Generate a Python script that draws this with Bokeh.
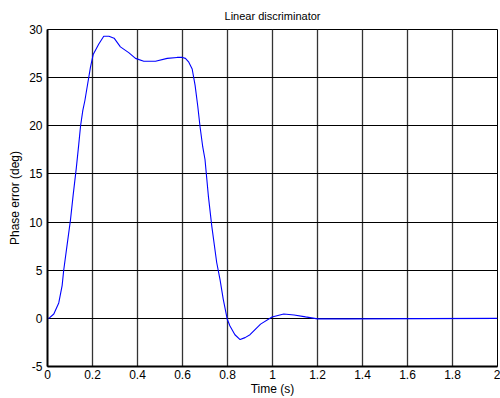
from bokeh.plotting import figure
from bokeh.models import Range1d, FixedTicker
from bokeh.embed import file_html
from bokeh.resources import INLINE

# Data
time_s = [0, 0.006, 0.028, 0.05, 0.065, 0.072, 0.087, 0.102, 0.114, 0.128, 0.139,
          0.147, 0.157, 0.166, 0.176, 0.191, 0.203, 0.228, 0.25, 0.273, 0.296,
          0.324, 0.361, 0.391, 0.428, 0.48, 0.532, 0.576, 0.6, 0.613, 0.628,
          0.643, 0.656, 0.668, 0.678, 0.69, 0.7, 0.715, 0.73, 0.752, 0.767,
          0.781, 0.799, 0.811, 0.833, 0.856, 0.878, 0.9, 0.947, 0.998, 1.05,
          1.096, 1.147, 1.2, 1.33, 2.0]
phase_err = [0, 0, 0.45, 1.6, 3.4, 5.0, 7.6, 10.2, 12.8, 15.6, 18.1,
             20.0, 21.6, 22.6, 24.0, 26.1, 27.4, 28.5, 29.3, 29.3, 29.1,
             28.2, 27.6, 27.0, 26.7, 26.7, 27.0, 27.1, 27.1, 27.0, 26.6,
             25.9, 24.2, 22.0, 19.9, 17.8, 16.5, 12.7, 9.6, 5.8, 4.0,
             2.0, -0.1, -0.8, -1.7, -2.2, -2.0, -1.7, -0.6, 0.15, 0.45,
             0.35, 0.15, -0.05, -0.05, 0]

x_ticks = [0, 0.2, 0.4, 0.6, 0.8, 1.0, 1.2, 1.4, 1.6, 1.8, 2.0]
x_tick_labels = ["0", "0.2", "0.4", "0.6", "0.8", "1", "1.2", "1.4", "1.6", "1.8", "2"]
y_ticks = [-5, 0, 5, 10, 15, 20, 25, 30]
y_tick_labels = ["-5", "0", "5", "10", "15", "20", "25", "30"]

FONT = "Liberation Sans"

p = figure(width=500, height=398, output_backend="svg", toolbar_location=None,
           x_range=Range1d(0, 2), y_range=Range1d(-5, 30),
           min_border_left=47, min_border_right=3, min_border_top=29, min_border_bottom=31)

p.title.text = "Linear discriminator"
p.title.align = "center"
p.title.text_font = FONT
p.title.text_font_size = "11px"
p.title.text_font_style = "normal"
p.title.text_color = "black"
p.title.standoff = 15

p.line(time_s, phase_err, line_color="#0000ff", line_width=1.1)

p.xaxis.ticker = FixedTicker(ticks=x_ticks)
p.xaxis.major_label_overrides = {t: l for t, l in zip(x_ticks, x_tick_labels)}
p.yaxis.ticker = FixedTicker(ticks=y_ticks)
p.yaxis.major_label_overrides = {t: l for t, l in zip(y_ticks, y_tick_labels)}

for ax in (p.xaxis[0], p.yaxis[0]):
    ax.axis_line_color = "black"
    ax.axis_line_width = 2
    ax.major_tick_in = 0
    ax.major_tick_out = 0
    ax.minor_tick_line_color = None
    ax.major_label_text_font = FONT
    ax.major_label_text_font_size = "12px"
    ax.major_label_text_color = "black"
    ax.axis_label_text_font = FONT
    ax.axis_label_text_font_size = "12px"
    ax.axis_label_text_font_style = "normal"
    ax.axis_label_text_color = "black"

p.xaxis.axis_label = "Time (s)"
p.yaxis.axis_label = "Phase error (deg)"
p.xaxis.major_label_standoff = 3
p.xaxis.axis_label_standoff = 0
p.yaxis.major_label_standoff = 5
p.yaxis.axis_label_standoff = 4

p.xgrid.grid_line_color = "#333333"
p.xgrid.grid_line_width = 1.3
p.ygrid.grid_line_color = "black"
p.ygrid.grid_line_width = 1
p.grid.grid_line_alpha = 1

p.outline_line_color = "black"
p.outline_line_width = 1
p.background_fill_color = "white"
p.border_fill_color = "white"

open("out.html", "w").write(file_html(p, INLINE))
